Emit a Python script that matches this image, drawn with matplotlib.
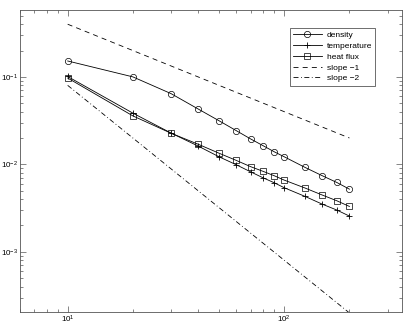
import numpy as np
import matplotlib
matplotlib.use("Agg")
import matplotlib.pyplot as plt
from matplotlib.ticker import LogLocator, NullFormatter

plt.rcParams['font.family'] = ['Liberation Sans', 'DejaVu Sans']
plt.rcParams['mathtext.fontset'] = 'custom'
plt.rcParams['mathtext.rm'] = 'Liberation Sans'
plt.rcParams['mathtext.it'] = 'Liberation Sans'

N = [10, 20, 30, 40, 50, 60, 70, 80, 90, 100, 125, 150, 175, 200]
density = [0.152, 0.100, 0.0644, 0.043, 0.0315, 0.0243, 0.0195, 0.0163, 0.0139,
           0.0122, 0.0092, 0.0074, 0.0062, 0.0052]
temperature = [0.101, 0.0385, 0.0228, 0.0162, 0.0122, 0.0099, 0.0082, 0.0070,
               0.00615, 0.0054, 0.00429, 0.0035, 0.0030, 0.00256]
heat_flux = [0.097, 0.0358, 0.0227, 0.0170, 0.0134, 0.0111, 0.0094, 0.0083,
             0.0074, 0.0066, 0.00535, 0.00445, 0.00383, 0.0033]
slope_x = [10, 200]
slope1 = [0.4, 0.02]
slope2 = [0.08, 0.0002]

fig = plt.figure(figsize=(4.09, 3.26), dpi=100)
ax = fig.add_axes([0.048, 0.043, 0.935, 0.926])

lw = 0.6
ax.plot(N, density, '-o', color='black', lw=lw, ms=4.5, mfc='none', mew=0.5, label='density')
ax.plot(N, temperature, '-+', color='black', lw=lw, ms=5, mew=0.6, label='temperature')
ax.plot(N, heat_flux, '-s', color='black', lw=lw, ms=4, mfc='none', mew=0.5, label='heat flux')
ax.plot(slope_x, slope1, color='black', lw=lw, ls=(0, (6, 5)), label='slope \u22121')
ax.plot(slope_x, slope2, color='black', lw=lw, ls=(0, (6, 3, 1, 3)), label='slope \u22122')

ax.set_xscale('log')
ax.set_yscale('log')
ax.set_xlim(6, 350)
ax.set_ylim(2.05e-4, 0.58)

ax.yaxis.set_major_locator(LogLocator(base=10, numticks=10))
ax.yaxis.set_minor_locator(LogLocator(base=10, subs=np.arange(2, 10), numticks=10))
ax.yaxis.set_minor_formatter(NullFormatter())
ax.xaxis.set_minor_formatter(NullFormatter())

ax.tick_params(which='both', direction='in', top=True, right=True, labelsize=5.8,
               width=0.5, color='#555555', pad=1)
ax.tick_params(which='major', length=4)
ax.tick_params(which='minor', length=2)
for s in ax.spines.values():
    s.set_linewidth(0.6)
    s.set_color('#555555')

leg = ax.legend(loc='upper right', bbox_to_anchor=(0.93, 0.94), fontsize=6,
                frameon=True, fancybox=False, edgecolor='black', handlelength=3.4,
                borderpad=0.4, labelspacing=0.35, handletextpad=0.6, borderaxespad=0)
leg.get_frame().set_linewidth(0.5)

fig.savefig('out.png', dpi=100)
